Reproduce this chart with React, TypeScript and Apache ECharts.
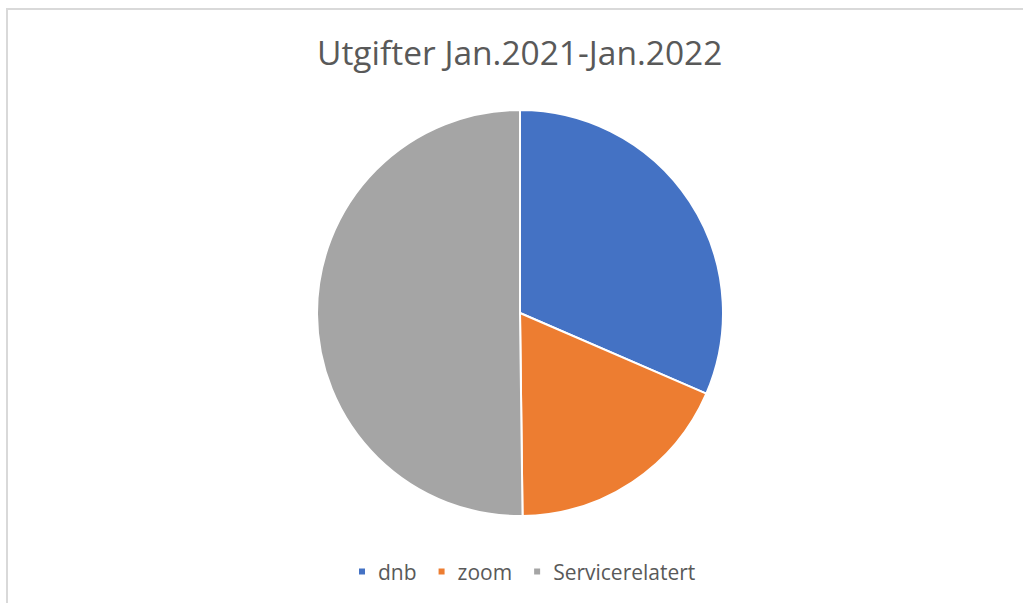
import React, { useEffect, useRef } from "react";
import * as echarts from "echarts";

const categories = ["dnb", "zoom", "Servicerelatert"];
const values = [31.5, 18.3, 50.2];
const colors = ["#4472c4", "#ed7d31", "#a5a5a5"];
const titleText = "Utgifter Jan.2021-Jan.2022";

export default function App() {
  const ref = useRef<HTMLDivElement>(null);
  useEffect(() => {
    document.body.style.margin = "0";
    const chart = echarts.init(ref.current!, null, { renderer: "svg" });
    chart.setOption({
      animation: false,
      backgroundColor: "#ffffff",
      title: {
        text: titleText,
        left: 312,
        top: 30,
        textStyle: {
          fontFamily: "Open Sans",
          fontSize: 33.5,
          fontWeight: "normal",
          color: "#595959",
        },
      },
      legend: {
        data: categories,
        bottom: 16,
        left: 352,
        icon: "rect",
        itemWidth: 8,
        itemHeight: 8,
        itemGap: 20,
        textStyle: {
          fontFamily: "Open Sans",
          fontSize: 21,
          color: "#595959",
          padding: [0, 0, 0, 7],
        },
      },
      graphic: [
        {
          type: "rect",
          shape: { x: 7, y: 9, width: 1100, height: 700 },
          style: { fill: "none", stroke: "#d9d9d9", lineWidth: 2 },
          silent: true,
        },
      ],
      series: [
        {
          type: "pie",
          center: [520, 313],
          radius: 203,
          startAngle: 90,
          clockwise: true,
          label: { show: false },
          labelLine: { show: false },
          itemStyle: { borderColor: "#ffffff", borderWidth: 2 },
          data: categories.map((c, i) => ({
            name: c,
            value: values[i],
            itemStyle: { color: colors[i] },
          })),
        },
      ],
    });
    return () => chart.dispose();
  }, []);
  return <div ref={ref} style={{ width: 1023, height: 603 }} />;
}
